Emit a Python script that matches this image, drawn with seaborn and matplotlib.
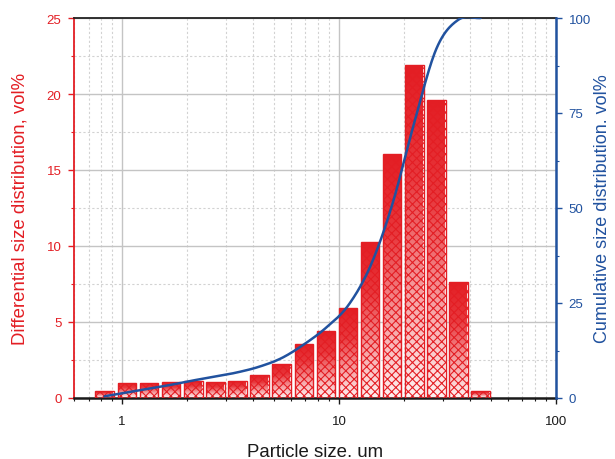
import numpy as np
import pandas as pd
import matplotlib
matplotlib.use("Agg")
import matplotlib.pyplot as plt
import seaborn as sns
from matplotlib.colors import LinearSegmentedColormap
from matplotlib.ticker import LogLocator, MultipleLocator, NullFormatter

# Particle size classes (bin centres, um) and differential volume fractions (vol%)
size_um = [0.83, 1.05, 1.33, 1.68, 2.12, 2.69, 3.40, 4.29, 5.43,
           6.86, 8.68, 11.0, 13.9, 17.5, 22.2, 28.1, 35.5, 44.9]
diff_vol = [0.45, 1.00, 1.00, 1.03, 1.14, 1.03, 1.12, 1.50, 2.25,
            3.55, 4.40, 5.90, 10.25, 16.05, 21.90, 19.60, 7.65, 0.45]

x_ticks = [1, 10, 100]
x_ticklabels = ["1", "10", "100"]
left_ticks = [0, 5, 10, 15, 20, 25]
right_ticks = [0, 25, 50, 75, 100]

RED = "#e31e24"
BLUE = "#21529f"

sns.set_style("ticks")
plt.rcParams["font.family"] = ["Liberation Sans", "DejaVu Sans"]
plt.rcParams["hatch.linewidth"] = 0.8

fig = plt.figure(figsize=(6.15, 4.6), dpi=100)
ax = fig.add_axes([74 / 615, 1 - 399 / 460, 482 / 615, 380 / 460])

df = pd.DataFrame({"size": size_um, "vol": diff_vol})

# bin edges in log10 units, halfway between neighbouring class centres
logc = np.log10(df["size"].to_numpy())
mid = (logc[1:] + logc[:-1]) / 2
edges = np.concatenate([[2 * logc[0] - mid[0]], mid, [2 * logc[-1] - mid[-1]]])

sns.histplot(data=df, x="size", weights="vol", bins=edges.tolist(), log_scale=True,
             shrink=0.84, element="bars", fill=True, color=RED,
             edgecolor=RED, linewidth=1.0, alpha=1, ax=ax)

# vertical red-to-white fade inside each bar, cross-hatched on top
fade = LinearSegmentedColormap.from_list("bar_fade", ["#fff2f2", "#f59a9c", "#e8383d", RED])
grad = np.linspace(0, 1, 256).reshape(-1, 1)
for bar in list(ax.patches):
    x0, w, h = bar.get_x(), bar.get_width(), bar.get_height()
    im = ax.imshow(grad, cmap=fade, origin="lower", extent=(x0, x0 + w, 0, h),
                   aspect="auto", interpolation="bilinear", zorder=2)
    im.set_clip_path(bar)
    bar.set_facecolor("none")
    bar.set_edgecolor(RED)
    bar.set_hatch("xxxx")
    bar.set_zorder(3)

ax.set_xscale("log")
ax.set_xlim(0.6, 100)
ax.set_ylim(0, 25)
ax.set_xticks(x_ticks, x_ticklabels)
ax.xaxis.set_minor_locator(LogLocator(base=10, subs=np.arange(2, 10)))
ax.xaxis.set_minor_formatter(NullFormatter())
ax.set_yticks(left_ticks)
ax.yaxis.set_minor_locator(MultipleLocator(2.5))

ax.set_axisbelow(True)
ax.grid(which="major", color="#c4c4c4", lw=1.0)
ax.grid(which="minor", color="#d2d2d2", lw=0.8, ls=(0, (2, 2)))

# cumulative distribution on the right axis
cum = np.cumsum(diff_vol) / np.sum(diff_vol) * 100


def hermite_path(t, y, n=24):
    """Smooth Catmull-Rom style path through (t, y)."""
    t = np.asarray(t, float)
    y = np.asarray(y, float)
    m = np.gradient(y)
    ts, ys = [], []
    s = np.linspace(0, 1, n, endpoint=False)
    h00 = 2 * s**3 - 3 * s**2 + 1
    h10 = s**3 - 2 * s**2 + s
    h01 = -2 * s**3 + 3 * s**2
    h11 = s**3 - s**2
    for i in range(len(y) - 1):
        ys.append(h00 * y[i] + h10 * m[i] + h01 * y[i + 1] + h11 * m[i + 1])
        ts.append(t[i] + s * (t[i + 1] - t[i]))
    ts.append([t[-1]])
    ys.append([y[-1]])
    return np.concatenate(ts), np.concatenate(ys)


ax2 = ax.twinx()
lt, ly = hermite_path(logc, cum)
sns.lineplot(x=10 ** lt, y=ly, ax=ax2, color=BLUE, lw=1.8, sort=False,
             estimator=None)
ax2.set_ylim(0, 100)
ax2.set_yticks(right_ticks)
ax2.yaxis.set_minor_locator(MultipleLocator(12.5))

# spines
for side in ("left", "top", "bottom"):
    ax2.spines[side].set_visible(False)
ax.spines["right"].set_visible(False)
ax.spines["left"].set_color(RED)
ax.spines["left"].set_linewidth(1.3)
ax.spines["top"].set_color("#222222")
ax.spines["top"].set_linewidth(1.3)
ax.spines["bottom"].set_color("#1a1a1a")
ax.spines["bottom"].set_linewidth(1.8)
ax2.spines["right"].set_color(BLUE)
ax2.spines["right"].set_linewidth(1.8)

# ticks
ax.tick_params(axis="x", which="major", length=4, width=1, colors="#1a1a1a",
               labelsize=9.5, pad=8)
ax.tick_params(axis="x", which="minor", length=2.5, width=0.8, colors="#1a1a1a")
ax.tick_params(axis="y", which="major", length=4, width=1, colors=RED,
               labelsize=9.5, pad=5)
ax.tick_params(axis="y", which="minor", length=2.5, width=0.8, colors=RED)
ax2.tick_params(axis="y", which="major", length=4, width=1, colors=BLUE,
                labelsize=9.5, pad=5)
ax2.tick_params(axis="y", which="minor", length=2.5, width=0.8, colors=BLUE)

# axis labels
ax.set_xlabel("Particle size. um", fontsize=13.4, color="#1a1a1a")
ax.set_ylabel("Differential size distribution, vol%", fontsize=13.4, color=RED)
ax2.set_ylabel("Cumulative size distribution. vol%", fontsize=13, color=BLUE)
ax.xaxis.label.set_va("center")
ax.xaxis.set_label_coords(0.5, -0.1395)
ax.yaxis.label.set_va("center")
ax.yaxis.set_label_coords(-0.112, 0.5)
ax2.yaxis.label.set_va("center")
ax2.yaxis.set_label_coords(1.0975, 0.5)

fig.savefig("out.png", dpi=100)
